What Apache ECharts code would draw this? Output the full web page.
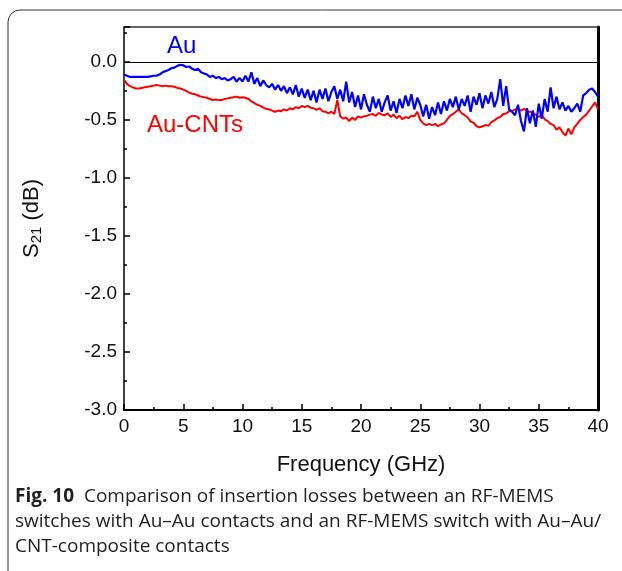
<!DOCTYPE html>
<html>
<head>
<meta charset="utf-8">
<script src="https://cdn.jsdelivr.net/npm/echarts@6/dist/echarts.min.js"></script>
<style>
  html, body { margin: 0; padding: 0; background: #fff; }
  #chart { width: 622px; height: 571px; }
</style>
</head>
<body>
<div id="chart"></div>
<script>
// frequency grid (GHz), 0.25 GHz steps
const freq = [
  0, 0.25, 0.5, 0.75, 1, 1.25, 1.5, 1.75, 2, 2.25, 2.5, 2.75, 3, 3.25, 3.5, 3.75,
  4, 4.25, 4.5, 4.75, 5, 5.25, 5.5, 5.75, 6, 6.25, 6.5, 6.75, 7, 7.25, 7.5, 7.75,
  8, 8.25, 8.5, 8.75, 9, 9.25, 9.5, 9.75, 10, 10.25, 10.5, 10.75, 11, 11.25, 11.5, 11.75,
  12, 12.25, 12.5, 12.75, 13, 13.25, 13.5, 13.75, 14, 14.25, 14.5, 14.75, 15, 15.25, 15.5, 15.75,
  16, 16.25, 16.5, 16.75, 17, 17.25, 17.5, 17.75, 18, 18.25, 18.5, 18.75, 19, 19.25, 19.5, 19.75,
  20, 20.25, 20.5, 20.75, 21, 21.25, 21.5, 21.75, 22, 22.25, 22.5, 22.75, 23, 23.25, 23.5, 23.75,
  24, 24.25, 24.5, 24.75, 25, 25.25, 25.5, 25.75, 26, 26.25, 26.5, 26.75, 27, 27.25, 27.5, 27.75,
  28, 28.25, 28.5, 28.75, 29, 29.25, 29.5, 29.75, 30, 30.25, 30.5, 30.75, 31, 31.25, 31.5, 31.75,
  32, 32.25, 32.5, 32.75, 33, 33.25, 33.5, 33.75, 34, 34.25, 34.5, 34.75, 35, 35.25, 35.5, 35.75,
  36, 36.25, 36.5, 36.75, 37, 37.25, 37.5, 37.75, 38, 38.25, 38.5, 38.75, 39, 39.25, 39.5, 39.75,
  40
];

// S21 (dB), Au-Au contacts
const au = [
  -0.11, -0.12, -0.13, -0.13,   -0.13, -0.13, -0.13, -0.13,   -0.13, -0.125, -0.12, -0.12,
  -0.11, -0.09, -0.08, -0.07,   -0.055, -0.05, -0.035, -0.025, -0.03, -0.045, -0.04, -0.06,
  -0.07, -0.06, -0.09, -0.10,   -0.11, -0.13, -0.12, -0.14,   -0.13, -0.15, -0.14, -0.16,
  -0.15, -0.13, -0.17, -0.14,   -0.17, -0.12, -0.17, -0.09,   -0.19, -0.14, -0.21, -0.16,
  -0.20, -0.22, -0.19, -0.24,   -0.20, -0.25, -0.21, -0.27,   -0.22, -0.28, -0.20, -0.30,
  -0.23, -0.31, -0.24, -0.33,   -0.25, -0.35, -0.24, -0.32,   -0.23, -0.34, -0.26, -0.21,
  -0.32, -0.24, -0.34, -0.17,   -0.35, -0.26, -0.39, -0.29,   -0.41, -0.28, -0.37, -0.43,
  -0.30, -0.40, -0.32, -0.43,   -0.35, -0.29, -0.42, -0.34,   -0.44, -0.32, -0.40, -0.29,
  -0.38, -0.28, -0.41, -0.31,   -0.37, -0.47, -0.37, -0.49,   -0.39, -0.46, -0.35, -0.45,
  -0.34, -0.42, -0.32, -0.39,   -0.30, -0.41, -0.32, -0.38,   -0.29, -0.43, -0.30, -0.37,
  -0.27, -0.40, -0.29, -0.36,   -0.26, -0.39, -0.32, -0.15,   -0.38, -0.21, -0.41, -0.43,
  -0.46, -0.37, -0.51, -0.60,   -0.40, -0.53, -0.42, -0.56,   -0.36, -0.49, -0.32, -0.43,
  -0.22, -0.40, -0.30, -0.41,   -0.35, -0.42, -0.38, -0.43,   -0.40, -0.36, -0.43, -0.29,
  -0.27, -0.24, -0.23, -0.26,   -0.30
];

// S21 (dB), Au-Au/CNT-composite contacts
const auCnt = [
  -0.155, -0.19, -0.21, -0.22,  -0.23, -0.23, -0.225, -0.22,  -0.215, -0.21, -0.205, -0.20,
  -0.205, -0.21, -0.205, -0.21, -0.21, -0.215, -0.225, -0.23, -0.24, -0.25, -0.265, -0.275,
  -0.28, -0.29, -0.30, -0.305,  -0.31, -0.32, -0.33, -0.325,  -0.33, -0.33, -0.32, -0.315,
  -0.31, -0.305, -0.30, -0.31,  -0.305, -0.31, -0.32, -0.34,  -0.355, -0.37, -0.38, -0.395,
  -0.405, -0.41, -0.42, -0.43,  -0.42, -0.425, -0.41, -0.42,  -0.40, -0.41, -0.39, -0.40,
  -0.38, -0.39, -0.38, -0.395,  -0.40, -0.415, -0.40, -0.425,  -0.43, -0.445, -0.43, -0.45,
  -0.33, -0.47, -0.49, -0.48,   -0.51, -0.48, -0.50, -0.47,   -0.48, -0.47, -0.465, -0.455,
  -0.45, -0.465, -0.44, -0.455, -0.46, -0.445, -0.475, -0.455, -0.485, -0.465, -0.495, -0.475,
  -0.485, -0.465, -0.47, -0.43, -0.50, -0.53, -0.545, -0.535, -0.545, -0.535, -0.555, -0.54,
  -0.53, -0.50, -0.465, -0.45,  -0.43, -0.41, -0.445, -0.46,  -0.48, -0.515, -0.525, -0.555,
  -0.565, -0.555, -0.545, -0.55, -0.52, -0.505, -0.485, -0.475, -0.45, -0.445, -0.425, -0.425,
  -0.41, -0.405, -0.42, -0.405, -0.425, -0.43, -0.445, -0.455, -0.475, -0.455, -0.495, -0.51,
  -0.535, -0.545, -0.585, -0.565, -0.605, -0.635, -0.575, -0.625, -0.565, -0.535, -0.50, -0.475,
  -0.455, -0.42, -0.385, -0.35, -0.41
];

const seriesNames = ['Au', 'Au-CNTs'];
const captionLines = [
  'Comparison of insertion losses between an RF-MEMS',
  'switches with Au\u2013Au contacts and an RF-MEMS switch with Au\u2013Au/',
  'CNT-composite contacts'
];

const font = 'Liberation Sans, Arial, sans-serif';
const captionFont = 'Open Sans, Noto Sans, sans-serif';
const pairs = (ys) => freq.map((f, i) => [f, ys[i]]);

const chart = echarts.init(document.getElementById('chart'));

const axisText = { color: '#111', fontFamily: font, fontSize: 19 };

chart.setOption({
  animation: false,
  grid: { left: 124, right: 24, top: 27, bottom: 161 },
  xAxis: [
    {
      type: 'value',
      min: 0,
      max: 40,
      interval: 5,
      name: 'Frequency (GHz)',
      nameLocation: 'middle',
      nameGap: 44,
      nameTextStyle: { color: '#111', fontFamily: font, fontSize: 22 },
      axisLine: { onZero: false, lineStyle: { color: '#000', width: 2 } },
      axisTick: { inside: true, length: 6, lineStyle: { color: '#000', width: 1.5 } },
      minorTick: { show: true, splitNumber: 2, length: 3, lineStyle: { color: '#000', width: 1.5 } },
      axisLabel: { ...axisText, margin: 7 },
      splitLine: { show: false }
    },
    {
      type: 'value',
      position: 'top',
      min: 0,
      max: 40,
      axisLine: { onZero: false, lineStyle: { color: '#333', width: 1.5 } },
      axisTick: { show: false },
      axisLabel: { show: false },
      splitLine: { show: false }
    }
  ],
  yAxis: [
    {
      type: 'value',
      min: -3,
      max: 0.3,
      interval: 0.5,
      name: '{s|S}{sub|21}{s| (dB)}',
      nameLocation: 'middle',
      nameGap: 80,
      nameRotate: 90,
      nameTextStyle: {
        rich: {
          s: { color: '#111', fontFamily: font, fontSize: 22 },
          sub: { color: '#111', fontFamily: font, fontSize: 15, verticalAlign: 'bottom', padding: [9, 0, 0, 0] }
        }
      },
      axisLine: { onZero: false, lineStyle: { color: '#000', width: 1.5 } },
      axisTick: { inside: true, length: 6, lineStyle: { color: '#000', width: 1.5 } },
      minorTick: { show: true, splitNumber: 2, length: 3, lineStyle: { color: '#000', width: 1.5 } },
      axisLabel: {
        ...axisText,
        margin: 7,
        showMaxLabel: false,
        formatter: (v) => v.toFixed(1)
      },
      splitLine: { show: false }
    },
    {
      type: 'value',
      position: 'right',
      min: -3,
      max: 0.3,
      axisLine: { onZero: false, lineStyle: { color: '#000', width: 3 } },
      axisTick: { show: false },
      axisLabel: { show: false },
      splitLine: { show: false }
    }
  ],
  series: [
    {
      name: seriesNames[0],
      type: 'line',
      data: pairs(au),
      showSymbol: false,
      lineStyle: { color: '#0000ff', width: 2.2 },
      z: 3,
      markLine: {
        silent: true,
        symbol: 'none',
        label: { show: false },
        lineStyle: { color: '#000', width: 1, type: 'solid' },
        data: [{ yAxis: 0 }]
      }
    },
    {
      name: seriesNames[1],
      type: 'line',
      data: pairs(auCnt),
      showSymbol: false,
      lineStyle: { color: '#ff0000', width: 2 },
      z: 2
    }
  ],
  graphic: [
    {
      type: 'rect',
      shape: { x: 8, y: 10, width: 700, height: 700, r: 12 },
      style: { fill: 'none', stroke: '#333', lineWidth: 1 },
      silent: true
    },
    {
      type: 'text',
      left: 167,
      top: 34,
      style: { text: seriesNames[0], fill: '#0000ff', font: '24px ' + font }
    },
    {
      type: 'text',
      left: 147,
      top: 113,
      style: { text: seriesNames[1], fill: '#ff0000', font: '24px ' + font }
    },
    {
      type: 'text',
      left: 15,
      top: 484,
      style: {
        text: '{b|Fig. 10}  ' + captionLines[0] + '\n' + captionLines[1] + '\n' + captionLines[2],
        fill: '#231f20',
        font: '19px ' + captionFont,
        lineHeight: 25,
        rich: {
          b: { fontWeight: 'bold', fontFamily: captionFont, fontSize: 19, fill: '#231f20', lineHeight: 25 }
        }
      }
    }
  ]
});
</script>
</body>
</html>
